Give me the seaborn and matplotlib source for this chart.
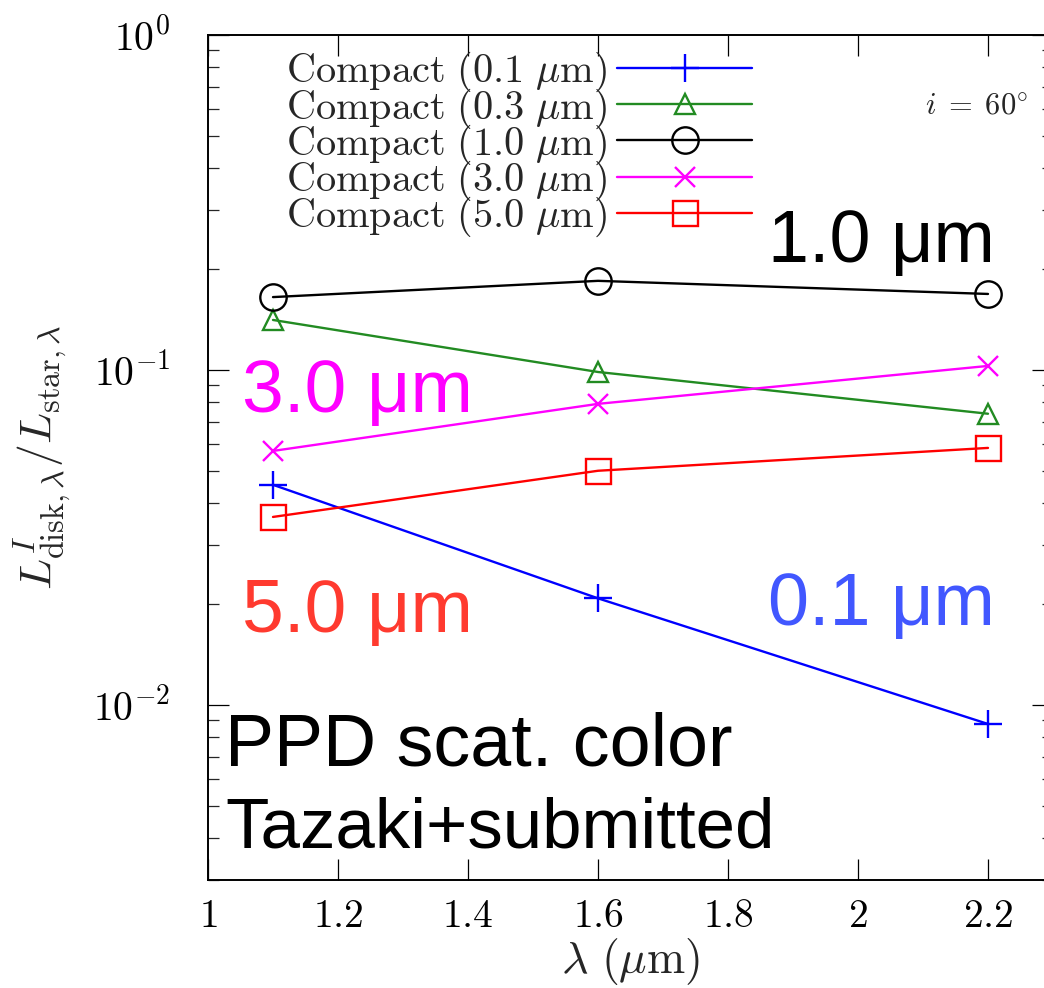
import numpy as np
import pandas as pd
import matplotlib
matplotlib.use("Agg")
import matplotlib.pyplot as plt
import matplotlib.ticker as mticker
import seaborn as sns

# ---- data ----
wavelength = [1.1, 1.6, 2.2]
compact_01 = [0.0454, 0.0208, 0.00877]
compact_03 = [0.141, 0.0986, 0.074]
compact_10 = [0.165, 0.1845, 0.1686]
compact_30 = [0.0573, 0.0792, 0.1028]
compact_50 = [0.0364, 0.050, 0.0585]

series_labels = [r"$\mathrm{Compact\ (0.1\ }\mu\mathrm{m)}$",
                 r"$\mathrm{Compact\ (0.3\ }\mu\mathrm{m)}$",
                 r"$\mathrm{Compact\ (1.0\ }\mu\mathrm{m)}$",
                 r"$\mathrm{Compact\ (3.0\ }\mu\mathrm{m)}$",
                 r"$\mathrm{Compact\ (5.0\ }\mu\mathrm{m)}$"]
series_values = [compact_01, compact_03, compact_10, compact_30, compact_50]
colors = ["#0000ff", "#228b22", "#000000", "#ff00ff", "#ff0000"]
markers = ["+", "^", "o", "x", "s"]
msizes = [20, 14, 19, 14, 18]

x_ticks = [1, 1.2, 1.4, 1.6, 1.8, 2, 2.2]
x_ticklabels = ["$1$", "$1.2$", "$1.4$", "$1.6$", "$1.8$", "$2$", "$2.2$"]

sns.set_style("ticks")
plt.rcParams["mathtext.fontset"] = "cm"
plt.rcParams["font.family"] = ["DejaVu Serif"]

fig = plt.figure(figsize=(10.44, 9.88), dpi=100)
ax = fig.add_axes([208/1044, 1 - 880/988, 845/1044, 845/988])

for lab, vals, c, m, ms in zip(series_labels, series_values, colors, markers, msizes):
    df = pd.DataFrame({"x": wavelength, "y": vals})
    sns.lineplot(data=df, x="x", y="y", ax=ax, color=c, marker=m, markersize=ms,
                 markerfacecolor="none", markeredgecolor=c, markeredgewidth=1.7,
                 linewidth=1.7, label=lab)

ax.set_yscale("log")
ax.set_xlim(1, 2.3)
ax.set_ylim(3e-3, 1)

ax.set_xticks(x_ticks)
ax.set_xticklabels(x_ticklabels)
ax.yaxis.set_major_locator(mticker.LogLocator(base=10, numticks=10))
ax.yaxis.set_minor_locator(mticker.LogLocator(base=10, subs=np.arange(2, 10), numticks=20))
ax.yaxis.set_major_formatter(mticker.FuncFormatter(lambda v, p: r"$10^{%d}$" % round(np.log10(v))))
ax.yaxis.set_minor_formatter(mticker.NullFormatter())

ax.tick_params(axis="both", which="major", direction="in", length=15, width=0.9,
               top=True, right=True, labelsize=28.5, colors="black")
ax.tick_params(axis="y", which="minor", direction="in", length=8, width=0.9, right=True, left=True)
ax.tick_params(axis="y", which="major", pad=27)
ax.tick_params(axis="x", which="major", pad=13)
for s in ax.spines.values():
    s.set_linewidth(1.4)
    s.set_color("black")

ax.set_xlabel(r"$\lambda\ (\mu\mathrm{m})$", fontsize=33, labelpad=1)
ax.set_ylabel(r"$L^{I}_{\mathrm{disk},\lambda}/L_{\mathrm{star},\lambda}$", fontsize=33)
ax.yaxis.set_label_coords(-0.160, 0.5)

leg = ax.legend(loc="upper right", bbox_to_anchor=((752 - 208) / 845, (880 - 50) / 845),
                frameon=False, markerfirst=False, fontsize=29, handlelength=3.35,
                labelspacing=-0.2, borderpad=0, borderaxespad=0, handletextpad=0.25)

ax.text(0.971, 0.906, r"$i\;=\;60^{\circ}$", transform=ax.transAxes, fontsize=22,
        ha="right", va="baseline")

sans = ["Liberation Sans", "DejaVu Sans"]
ax.text(0.931, 0.731, "1.0 μm", transform=ax.transAxes, fontsize=53, color="black",
        ha="right", va="baseline", family=sans)
ax.text(0.040, 0.554, "3.0 μm", transform=ax.transAxes, fontsize=54, color="#ff00ff",
        ha="left", va="baseline", family=sans)
ax.text(0.040, 0.293, "5.0 μm", transform=ax.transAxes, fontsize=54, color="#ff3a2f",
        ha="left", va="baseline", family=sans)
ax.text(0.931, 0.302, "0.1 μm", transform=ax.transAxes, fontsize=53, color="#4157ff",
        ha="right", va="baseline", family=sans)
ax.text(0.020, 0.135, "PPD scat. color", transform=ax.transAxes, fontsize=53,
        color="black", ha="left", va="baseline", family=sans)
ax.text(0.020, 0.038, "Tazaki+submitted", transform=ax.transAxes, fontsize=51,
        color="black", ha="left", va="baseline", family=sans)

fig.savefig("out.png", dpi=100)
